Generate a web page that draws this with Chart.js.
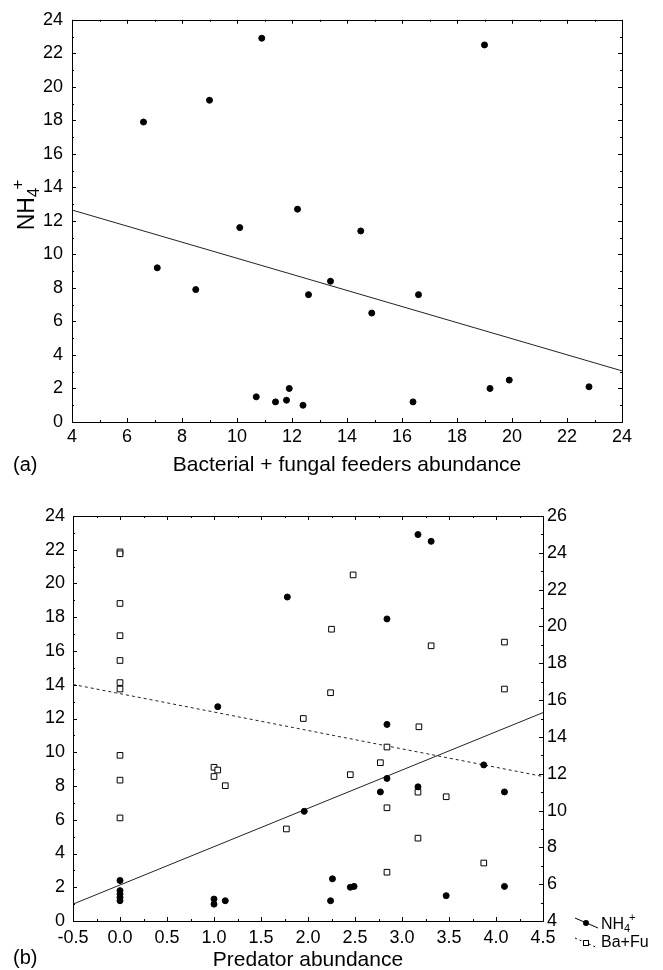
<!DOCTYPE html>
<html>
<head>
<meta charset="utf-8">
<script src="https://cdn.jsdelivr.net/npm/chart.js@4.4.0/dist/chart.umd.min.js"></script>
<style>
  body { margin: 0; background: #fff; }
  canvas { position: absolute; left: 0; }
  #chartA { top: 0; }
  #chartB { top: 480px; }
</style>
</head>
<body>
<canvas id="chartA" width="663" height="480"></canvas>
<canvas id="chartB" width="663" height="490"></canvas>
<script>
// (a) NH4+ vs bacterial + fungal feeders
const feedersX = [6.6, 7.1, 8.5, 9.0, 10.1, 10.9, 12.2, 10.7, 11.4, 11.8, 11.9, 12.4, 12.6, 13.4, 14.5, 14.9, 16.4, 16.6, 19.0, 19.2, 19.9, 22.8];
const nh4A = [17.9, 9.2, 7.9, 19.2, 11.6, 22.9, 12.7, 1.5, 1.2, 1.3, 2.0, 1.0, 7.6, 8.4, 11.4, 6.5, 1.2, 7.6, 22.5, 2.0, 2.5, 2.1];
const fitAX = [4, 24];
const fitAY = [12.65, 3.05];

// (b) NH4+ (left axis) and Ba+Fu (right axis) vs predators
const predNH4X = [0, 0, 0, 0, 0, 1.0, 1.0, 1.12, 1.04, 1.78, 1.96, 2.24, 2.26, 2.45, 2.49, 2.84, 2.84, 2.84, 2.77, 3.17, 3.31, 3.17, 3.47, 3.87, 4.09, 4.09];
const nh4B = [2.4, 1.8, 1.6, 1.4, 1.2, 1.3, 1.0, 1.2, 12.7, 19.2, 6.5, 1.2, 2.5, 2.0, 2.05, 17.9, 11.65, 8.45, 7.65, 22.9, 22.5, 7.95, 1.5, 9.25, 7.65, 2.05];
const predBaFuX = [0, 0, 0, 0, 0, 0, 0, 0, 0, 0, 1.0, 1.04, 1.0, 1.12, 1.77, 1.95, 2.25, 2.24, 2.48, 2.45, 2.77, 2.84, 2.84, 2.84, 3.17, 3.18, 3.17, 3.31, 3.47, 3.87, 4.09, 4.09];
const baFu = [24.05, 23.95, 21.25, 19.5, 18.15, 16.95, 16.6, 13.0, 11.65, 9.6, 12.35, 12.2, 11.85, 11.35, 9.0, 15.0, 19.85, 16.4, 22.8, 11.95, 12.6, 13.45, 10.15, 6.65, 11.0, 14.55, 8.5, 18.95, 10.75, 7.15, 19.15, 16.6];
const fitBX = [-0.5, 4.5];
const fitNH4Y = [1.0, 12.35];
const fitBaFuY = [16.85, 11.85];

const FONT = '"Liberation Sans", Arial, sans-serif';
Chart.defaults.font.family = FONT;
Chart.defaults.color = '#000';

function pts(xs, ys) {
  return xs.map((x, i) => ({ x: x, y: ys[i] }));
}

// "NH" with subscript 4 and superscript + after it
function drawNH4(ctx, x, y, big, small) {
  ctx.textBaseline = 'alphabetic';
  ctx.textAlign = 'left';
  ctx.font = big + 'px ' + FONT;
  ctx.fillText('NH', x, y);
  x += ctx.measureText('NH').width;
  ctx.font = small + 'px ' + FONT;
  ctx.fillText('4', x, y + small * 0.3);
  x += ctx.measureText('4').width * 0.8;
  ctx.fillText('+', x, y - big * 0.5);
}
function widthNH4(ctx, big, small) {
  ctx.font = big + 'px ' + FONT;
  let w = ctx.measureText('NH').width;
  ctx.font = small + 'px ' + FONT;
  return w + ctx.measureText('4').width * 0.8 + ctx.measureText('+').width;
}

// box round the plot plus small inward ticks
const frame = {
  id: 'frame',
  afterDatasetsDraw(chart, args, opts) {
    const ctx = chart.ctx;
    const a = chart.chartArea;
    ctx.save();
    ctx.strokeStyle = '#000';
    ctx.lineWidth = 1;
    ctx.strokeRect(Math.round(a.left) + 0.5, Math.round(a.top) + 0.5,
      Math.round(a.right - a.left), Math.round(a.bottom - a.top));
    ctx.beginPath();
    Object.values(chart.scales).forEach(s => {
      s.ticks.forEach(t => {
        const p = Math.round(s.getPixelForValue(t.value)) + 0.5;
        const len = t.label !== '' ? 4 : 2;
        if (s.isHorizontal()) {
          ctx.moveTo(p, a.bottom); ctx.lineTo(p, a.bottom - len);
          ctx.moveTo(p, a.top); ctx.lineTo(p, a.top + len);
        } else if (s.position === 'left') {
          ctx.moveTo(a.left, p); ctx.lineTo(a.left + len, p);
          if (opts.mirrorY) { ctx.moveTo(a.right, p); ctx.lineTo(a.right - len, p); }
        } else {
          ctx.moveTo(a.right, p); ctx.lineTo(a.right - len, p);
        }
      });
    });
    ctx.stroke();
    ctx.fillStyle = '#000';
    // panel letter
    ctx.font = '20px ' + FONT;
    ctx.textBaseline = 'middle';
    ctx.fillText(opts.letter, 13, opts.letterY);
    // rotated y title
    if (opts.yTitle) {
      ctx.save();
      ctx.translate(34, opts.yTitle);
      ctx.rotate(-Math.PI / 2);
      const w = widthNH4(ctx, 23, 17);
      drawNH4(ctx, -w / 2, 0, 23, 17);
      ctx.restore();
    }
    ctx.restore();
  }
};

// legend under the right axis of panel (b)
const sideLegend = {
  id: 'sideLegend',
  afterDraw(chart) {
    const ctx = chart.ctx;
    const a = chart.chartArea;
    const x0 = a.right + 32;
    const rows = [
      { ds: chart.data.datasets[0], y: a.bottom + 2, dash: [] },
      { ds: chart.data.datasets[1], y: a.bottom + 22, dash: [2, 3] }
    ];
    ctx.save();
    ctx.fillStyle = '#000';
    ctx.strokeStyle = '#000';
    ctx.lineWidth = 1;
    rows.forEach(r => {
      ctx.setLineDash(r.dash);
      ctx.beginPath();
      ctx.moveTo(x0, r.y - 5);
      ctx.lineTo(x0 + 23, r.y + 5);
      ctx.stroke();
      ctx.setLineDash([]);
      const cx = x0 + 11, cy = r.y;
      if (r.ds.pointStyle === 'rect') {
        ctx.fillStyle = '#fff';
        ctx.fillRect(cx - 3, cy - 3, 6, 6);
        ctx.strokeRect(cx - 2.5, cy - 2.5, 5, 5);
        ctx.fillStyle = '#000';
      } else {
        ctx.beginPath();
        ctx.arc(cx, cy, 3, 0, Math.PI * 2);
        ctx.fill();
      }
      if (r.ds.label === 'NH₄⁺') {
        drawNH4(ctx, x0 + 26, r.y + 6, 16, 11);
      } else {
        ctx.font = '16px ' + FONT;
        ctx.textBaseline = 'middle';
        ctx.fillText(r.ds.label, x0 + 26, r.y);
      }
    });
    ctx.restore();
  }
};

const tickFont = { size: 18 };
const evenLabel = v => (Math.round(v) % 2 === 0 ? String(v) : '');

new Chart(document.getElementById('chartA'), {
  type: 'scatter',
  data: {
    datasets: [
      {
        label: 'NH₄⁺',
        data: pts(feedersX, nh4A),
        pointRadius: 3,
        pointHoverRadius: 3,
        backgroundColor: '#000',
        borderColor: '#000'
      },
      {
        label: 'fit',
        data: pts(fitAX, fitAY),
        showLine: true,
        pointRadius: 0,
        borderColor: '#222',
        borderWidth: 1
      }
    ]
  },
  options: {
    responsive: false,
    animation: false,
    devicePixelRatio: 1,
    layout: { padding: { top: 18, right: 41, left: 0, bottom: 0 } },
    plugins: {
      legend: { display: false },
      tooltip: { enabled: false },
      frame: { letter: '(a)', letterY: 465, mirrorY: true, yTitle: 205 }
    },
    scales: {
      x: {
        type: 'linear',
        min: 4,
        max: 24,
        grid: { display: false, drawTicks: false },
        border: { display: false },
        ticks: { stepSize: 1, autoSkip: false, maxRotation: 0, padding: 4, font: tickFont, callback: evenLabel },
        title: { display: true, text: 'Bacterial + fungal feeders abundance', font: { size: 21, lineHeight: 1 }, padding: { top: 0, bottom: 4 } },
        afterFit: s => { s.height = 58; }
      },
      y: {
        type: 'linear',
        min: 0,
        max: 24,
        grid: { display: false, drawTicks: false },
        border: { display: false },
        ticks: { stepSize: 1, autoSkip: false, padding: 9, font: tickFont, callback: evenLabel },
        afterFit: s => { s.width = 72; }
      }
    }
  },
  plugins: [frame]
});

new Chart(document.getElementById('chartB'), {
  type: 'scatter',
  data: {
    datasets: [
      {
        label: 'NH₄⁺',
        data: pts(predNH4X, nh4B),
        yAxisID: 'y',
        pointStyle: 'circle',
        pointRadius: 3,
        pointHoverRadius: 3,
        backgroundColor: '#000',
        borderColor: '#000'
      },
      {
        label: 'Ba+Fu',
        data: pts(predBaFuX, baFu),
        yAxisID: 'y2',
        pointStyle: 'rect',
        pointRadius: 4,
        pointHoverRadius: 4,
        backgroundColor: '#fff',
        borderColor: '#000',
        borderWidth: 1
      },
      {
        label: 'NH4 fit',
        data: pts(fitBX, fitNH4Y),
        yAxisID: 'y',
        showLine: true,
        pointRadius: 0,
        borderColor: '#222',
        borderWidth: 1
      },
      {
        label: 'Ba+Fu fit',
        data: pts(fitBX, fitBaFuY),
        yAxisID: 'y2',
        showLine: true,
        pointRadius: 0,
        borderColor: '#222',
        borderWidth: 1,
        borderDash: [3, 3]
      }
    ]
  },
  options: {
    responsive: false,
    animation: false,
    devicePixelRatio: 1,
    layout: { padding: { top: 36, right: 80, left: 0, bottom: 0 } },
    plugins: {
      legend: { display: false },
      tooltip: { enabled: false },
      frame: { letter: '(b)', letterY: 478, mirrorY: false }
    },
    scales: {
      x: {
        type: 'linear',
        min: -0.5,
        max: 4.5,
        grid: { display: false, drawTicks: false },
        border: { display: false },
        ticks: {
          stepSize: 0.25, autoSkip: false, maxRotation: 0, padding: 6, font: tickFont,
          callback: v => (Math.abs(v * 2 - Math.round(v * 2)) < 1e-6 ? v.toFixed(1) : '')
        },
        title: { display: true, text: 'Predator abundance', font: { size: 21, lineHeight: 1 }, padding: { top: 0, bottom: -1 } },
        afterFit: s => { s.height = 49; }
      },
      y: {
        type: 'linear',
        position: 'left',
        min: 0,
        max: 24,
        grid: { display: false, drawTicks: false },
        border: { display: false },
        ticks: { stepSize: 1, autoSkip: false, padding: 8, font: tickFont, callback: evenLabel },
        afterFit: s => { s.width = 73; }
      },
      y2: {
        type: 'linear',
        position: 'right',
        min: 4,
        max: 26,
        grid: { display: false, drawTicks: false },
        border: { display: false },
        ticks: { stepSize: 1, autoSkip: false, padding: 4, font: tickFont, callback: evenLabel },
        afterFit: s => { s.width = 40; }
      }
    }
  },
  plugins: [frame, sideLegend]
});
</script>
</body>
</html>
